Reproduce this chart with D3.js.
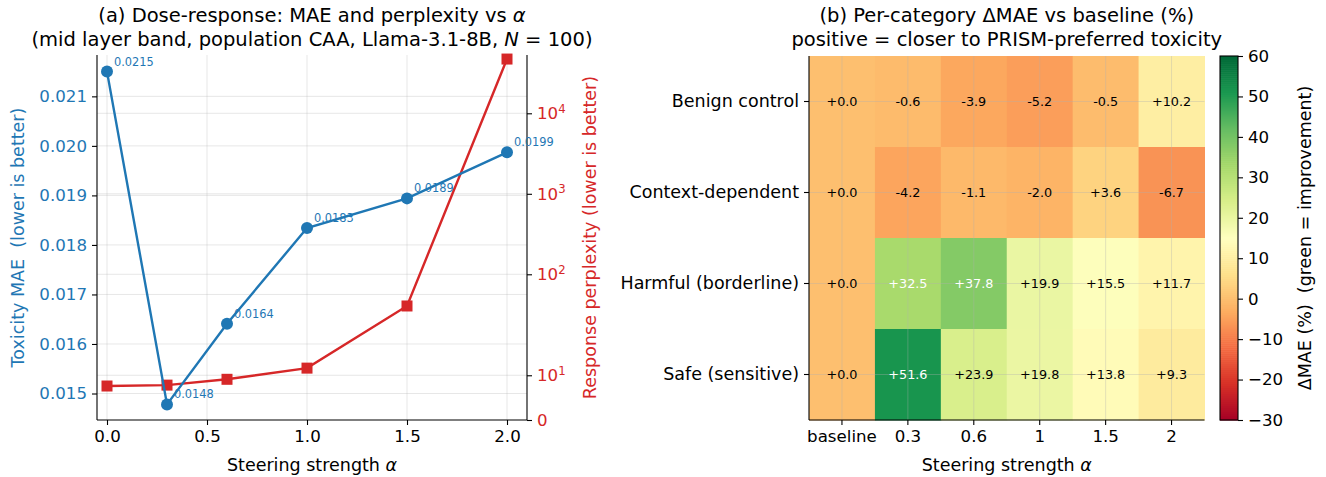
<!DOCTYPE html>
<html>
<head>
<meta charset="utf-8">
<script src="https://cdn.jsdelivr.net/npm/d3@7"></script>
<style>
  body { margin: 0; background: #fff; }
  text { font-family: "DejaVu Sans", sans-serif; }
</style>
</head>
<body>
<script>
// ---- data ----
var alphas     = [0, 0.3, 0.6, 1.0, 1.5, 2.0];
var mae        = [0.02150, 0.01478, 0.01641, 0.01834, 0.01894, 0.01987];
var perplexity = [7.6, 7.8, 9.1, 11.6, 40.4, 47200];
var xTicks     = [0, 0.5, 1.0, 1.5, 2.0];
var maeTicks   = [0.015, 0.016, 0.017, 0.018, 0.019, 0.020, 0.021];
var pplTicks   = [0, 10, 100, 1000, 10000];

var categories = ["Benign control", "Context-dependent", "Harmful (borderline)", "Safe (sensitive)"];
var strengths  = ["baseline", "0.3", "0.6", "1", "1.5", "2"];
var deltaBenign  = [0.0, -0.6, -3.9, -5.2, -0.5, 10.2];
var deltaContext = [0.0, -4.2, -1.1, -2.0, 3.6, -6.7];
var deltaHarmful = [0.0, 32.5, 37.8, 19.9, 15.5, 11.7];
var deltaSafe    = [0.0, 51.6, 23.9, 19.8, 13.8, 9.3];
var cbarTicks  = [-30, -20, -10, 0, 10, 20, 30, 40, 50, 60];

var W = 1326, H = 477;
var blue = "#1f77b4", red = "#d62728";
var fs = 16.67;     // numeric tick labels
var fsLab = 17.5;   // axis labels / category labels
var fsTitle = 19.5;

var svg = d3.select("body").append("svg")
  .attr("width", W).attr("height", H);

// ================= panel (a) =================
var aL = 97, aR = 527, aT = 55, aB = 420;

var x = d3.scaleLinear().domain([-0.05, 2.1]).range([aL, aR]);
var yMae = d3.scaleLinear().domain([0.014465, 0.021835]).range([aB, aT]);

// matplotlib-style symlog (linthresh 20, linscale 1)
function symT(v) {
  var L = 20, c = 1 / (1 - 1 / 10), a = Math.abs(v);
  var t = a <= L ? a / L * c : c + Math.log10(a / L);
  return Math.sign(v) * t;
}
var yT = d3.scaleLinear().domain([0, symT(53000)]).range([aB, aT]);
function yPpl(v) { return yT(symT(v)); }

var ga = svg.append("g");

// grid
var grid = ga.append("g").attr("stroke", "#b0b0b0").attr("stroke-opacity", 0.3).attr("stroke-width", 1);
grid.selectAll("line.gx").data(xTicks).enter().append("line")
  .attr("x1", d => x(d)).attr("x2", d => x(d)).attr("y1", aT).attr("y2", aB);
grid.selectAll("line.gy").data(maeTicks).enter().append("line")
  .attr("x1", aL).attr("x2", aR).attr("y1", d => yMae(d)).attr("y2", d => yMae(d));
grid.selectAll("line.gr").data(pplTicks.slice(1)).enter().append("line")
  .attr("x1", aL).attr("x2", aR).attr("y1", d => yPpl(d)).attr("y2", d => yPpl(d));

// x axis
var xAxis = ga.append("g").attr("transform", "translate(0," + aB + ")")
  .call(d3.axisBottom(x).tickValues(xTicks).tickFormat(d3.format(".1f")).tickSize(5).tickPadding(5));
// left axis
var lAxis = ga.append("g").attr("transform", "translate(" + aL + ",0)")
  .call(d3.axisLeft(yMae).tickValues(maeTicks).tickFormat(d3.format(".3f")).tickSize(5).tickPadding(5));
// right axis (symlog)
var rAxis = ga.append("g").attr("transform", "translate(" + aR + ",0)")
  .call(d3.axisRight(yT).tickValues(pplTicks.map(symT)).tickFormat("").tickSize(5));

[xAxis, lAxis, rAxis].forEach(function (g) {
  g.select(".domain").attr("stroke", "#000").attr("stroke-width", 1.1);
  g.selectAll(".tick line").attr("stroke", "#000").attr("stroke-width", 1.1);
  g.selectAll("text").attr("font-size", fs).attr("font-family", "DejaVu Sans").attr("fill", "#000");
});
lAxis.selectAll("text").attr("fill", blue);
xAxis.select(".domain").attr("d", "M" + aL + ",0H" + aR);
lAxis.select(".domain").attr("d", "M0," + aT + "V" + aB);
rAxis.select(".domain").attr("d", "M0," + aT + "V" + aB);

var rLab = ga.append("g").selectAll("text").data(pplTicks).enter().append("text")
  .attr("x", aR + 10).attr("y", d => yPpl(d)).attr("dy", "0.36em")
  .attr("fill", red).attr("font-size", fs);
rLab.each(function (d) {
  var t = d3.select(this);
  if (d === 0) { t.text("0"); return; }
  t.append("tspan").text("10");
  t.append("tspan").attr("font-size", fs * 0.7).attr("dy", "-0.55em").text(Math.round(Math.log10(d)));
});

// perplexity line (red squares)
var pplLine = d3.line().x((d, i) => x(alphas[i])).y(d => yPpl(d));
ga.append("path").datum(perplexity).attr("d", pplLine)
  .attr("fill", "none").attr("stroke", red).attr("stroke-width", 2.4);
ga.selectAll("rect.sq").data(perplexity).enter().append("rect")
  .attr("x", (d, i) => x(alphas[i]) - 5.5).attr("y", d => yPpl(d) - 5.5)
  .attr("width", 11).attr("height", 11).attr("fill", red);

// MAE line (blue circles)
var maeLine = d3.line().x((d, i) => x(alphas[i])).y(d => yMae(d));
ga.append("path").datum(mae).attr("d", maeLine)
  .attr("fill", "none").attr("stroke", blue).attr("stroke-width", 2.4);
ga.selectAll("circle.pt").data(mae).enter().append("circle")
  .attr("cx", (d, i) => x(alphas[i])).attr("cy", d => yMae(d)).attr("r", 6).attr("fill", blue);
ga.selectAll("text.ann").data(mae).enter().append("text")
  .attr("x", (d, i) => x(alphas[i]) + 7).attr("y", d => yMae(d) - 6)
  .attr("font-size", 11.4).attr("fill", blue).text(d3.format(".4f"));

// labels
ga.append("text").attr("x", (aL + aR) / 2).attr("y", 471).attr("text-anchor", "middle")
  .attr("font-size", fsLab).html('Steering strength <tspan font-style="italic">α</tspan>');
ga.append("text").attr("transform", "translate(24," + (aT + aB) / 2 + ") rotate(-90)")
  .attr("text-anchor", "middle").attr("font-size", fsLab).attr("fill", blue)
  .attr("xml:space", "preserve").text("Toxicity MAE  (lower is better)");
ga.append("text").attr("transform", "translate(596," + (aT + aB) / 2 + ") rotate(-90)")
  .attr("text-anchor", "middle").attr("font-size", fsLab).attr("fill", red)
  .text("Response perplexity (lower is better)");
ga.append("text").attr("x", (aL + aR) / 2).attr("y", 22).attr("text-anchor", "middle")
  .attr("font-size", fsTitle).html('(a) Dose-response: MAE and perplexity vs <tspan font-style="italic">α</tspan>');
ga.append("text").attr("x", (aL + aR) / 2).attr("y", 46).attr("text-anchor", "middle")
  .attr("font-size", fsTitle).html('(mid layer band, population CAA, Llama-3.1-8B, <tspan font-style="italic">N</tspan> = 100)');

// ================= panel (b) =================
var bL = 809, bR = 1204.5, bT = 56, bB = 420;
var rows = [deltaBenign, deltaContext, deltaHarmful, deltaSafe];

var xb = d3.scaleBand().domain(strengths).range([bL, bR]);
var yb = d3.scaleBand().domain(categories).range([bT, bB]);
var cols = d3.schemeRdYlGn[11];
var color = d3.scaleLinear()
  .domain(d3.range(11).map(i => -30 + i * 9))
  .range(cols).interpolate(d3.interpolateRgb).clamp(true);

var gb = svg.append("g");
var cells = [];
rows.forEach(function (r, ri) {
  r.forEach(function (v, ci) { cells.push({ cat: categories[ri], s: strengths[ci], v: v }); });
});
gb.selectAll("rect.cell").data(cells).enter().append("rect")
  .attr("x", d => xb(d.s)).attr("y", d => yb(d.cat))
  .attr("width", xb.bandwidth() + 0.5).attr("height", yb.bandwidth() + 0.5)
  .attr("fill", d => color(d.v));

var gridB = gb.append("g").attr("stroke", "#b0b0b0").attr("stroke-opacity", 0.35).attr("stroke-width", 1);
gridB.selectAll("line.v").data(strengths).enter().append("line")
  .attr("x1", d => xb(d) + xb.bandwidth() / 2).attr("x2", d => xb(d) + xb.bandwidth() / 2)
  .attr("y1", bT).attr("y2", bB);
gridB.selectAll("line.h").data(categories).enter().append("line")
  .attr("y1", d => yb(d) + yb.bandwidth() / 2).attr("y2", d => yb(d) + yb.bandwidth() / 2)
  .attr("x1", bL).attr("x2", bR);

function fmtDelta(v) { return (v < 0 ? "-" : "+") + Math.abs(v).toFixed(1); }
gb.selectAll("text.cell").data(cells).enter().append("text")
  .attr("x", d => xb(d.s) + xb.bandwidth() / 2).attr("y", d => yb(d.cat) + yb.bandwidth() / 2)
  .attr("dy", "0.36em").attr("text-anchor", "middle").attr("font-size", 12.8)
  .attr("fill", d => (d.v > 30 || d.v < -20) ? "#fff" : "#000").text(d => fmtDelta(d.v));

var xbAxis = gb.append("g").attr("transform", "translate(0," + bB + ")")
  .call(d3.axisBottom(xb).tickSize(5).tickPadding(5));
var ybAxis = gb.append("g").attr("transform", "translate(" + bL + ",0)")
  .call(d3.axisLeft(yb).tickSize(5).tickPadding(5));
[xbAxis, ybAxis].forEach(function (g) {
  g.select(".domain").attr("stroke", "#000").attr("stroke-width", 1.1);
  g.selectAll(".tick line").attr("stroke", "#000").attr("stroke-width", 1.1);
  g.selectAll("text").attr("font-size", fs).attr("font-family", "DejaVu Sans").attr("fill", "#000");
});
ybAxis.selectAll("text").attr("font-size", fsLab);
xbAxis.select(".domain").attr("d", "M" + bL + ",0H" + bR);
ybAxis.select(".domain").attr("d", "M0," + bT + "V" + bB);

gb.append("text").attr("x", (bL + bR) / 2).attr("y", 471).attr("text-anchor", "middle")
  .attr("font-size", fsLab).html('Steering strength <tspan font-style="italic">α</tspan>');
gb.append("text").attr("x", (bL + bR) / 2).attr("y", 22).attr("text-anchor", "middle")
  .attr("font-size", fsTitle).text("(b) Per-category ΔMAE vs baseline (%)");
gb.append("text").attr("x", (bL + bR) / 2).attr("y", 46).attr("text-anchor", "middle")
  .attr("font-size", fsTitle).text("positive = closer to PRISM-preferred toxicity");

// colorbar
var cL = 1220, cW = 18;
var yc = d3.scaleLinear().domain([-30, 60]).range([bB, bT]);
var steps = d3.range(-30, 60, 0.5);
var gc = svg.append("g");
gc.selectAll("rect").data(steps).enter().append("rect")
  .attr("x", cL).attr("width", cW)
  .attr("y", d => yc(d + 0.5)).attr("height", d => yc(d) - yc(d + 0.5) + 0.6)
  .attr("fill", d => color(d + 0.25));
gc.append("rect").attr("x", cL).attr("y", bT).attr("width", cW).attr("height", bB - bT)
  .attr("fill", "none").attr("stroke", "#000").attr("stroke-width", 1.1);
var cAxis = gc.append("g").attr("transform", "translate(" + (cL + cW) + ",0)")
  .call(d3.axisRight(yc).tickValues(cbarTicks).tickSize(5).tickPadding(5)
    .tickFormat(d => d < 0 ? "\u2212" + Math.abs(d) : String(d)));
cAxis.select(".domain").remove();
cAxis.selectAll(".tick line").attr("stroke", "#000").attr("stroke-width", 1.1);
cAxis.selectAll("text").attr("font-size", fs).attr("font-family", "DejaVu Sans").attr("fill", "#000");
gc.append("text").attr("transform", "translate(1311," + (bT + bB) / 2 + ") rotate(-90)")
  .attr("text-anchor", "middle").attr("font-size", fsLab).attr("xml:space", "preserve")
  .text("ΔMAE (%)  (green = improvement)");
</script>
</body>
</html>
